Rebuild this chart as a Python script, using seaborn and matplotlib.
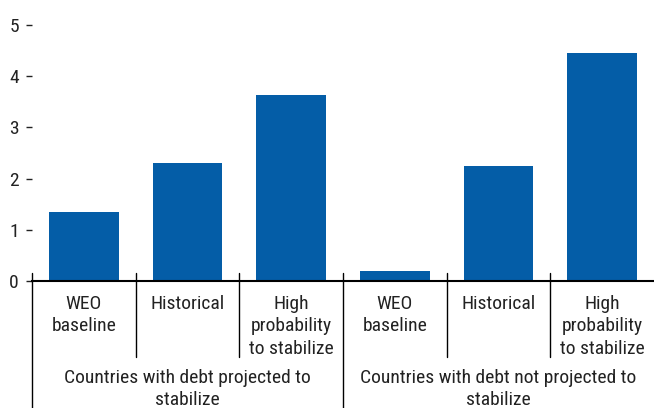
import pandas as pd
import matplotlib
matplotlib.use("Agg")
import matplotlib.pyplot as plt
import matplotlib.transforms as mtransforms
from matplotlib import font_manager as fm
import seaborn as sns

# data
groups = ["Countries with debt projected to\nstabilize",
          "Countries with debt not projected to\nstabilize"]
scenarios = ["WEO\nbaseline", "Historical", "High\nprobability\nto stabilize"]
values_stabilize = [1.34, 2.31, 3.64]
values_not_stabilize = [0.19, 2.24, 4.46]

df = pd.DataFrame({
    "slot": list(range(6)),
    "group": [groups[0]] * 3 + [groups[1]] * 3,
    "scenario": scenarios * 2,
    "value": values_stabilize + values_not_stabilize,
})

sns.set_style("white")
names = {f.name for f in fm.fontManager.ttflist}
fam = [n for n in ["Liberation Sans Narrow", "Roboto Condensed", "Open Sans Condensed",
                   "Liberation Sans"] if n in names] + ["DejaVu Sans"]
plt.rcParams["font.family"] = fam[:1] + ["DejaVu Sans"]

fig = plt.figure(figsize=(6.54, 4.08), dpi=100)
ax = fig.add_axes([32 / 654, 1 - 281 / 408, 1 - 32 / 654, (281 - 25) / 408])

sns.barplot(data=df, x="slot", y="value", color="#045DA7", saturation=1,
            width=0.67, ax=ax, order=list(range(6)), linewidth=0, edgecolor="none")

ax.set_xlim(-0.5, 5.5)
ax.set_ylim(0, 5)
ax.set_yticks(range(6))
ax.set_xticks([])
ax.set_xlabel("")
ax.set_ylabel("")
for s in ["top", "right", "left"]:
    ax.spines[s].set_visible(False)
ax.spines["bottom"].set_linewidth(1.5)
ax.spines["bottom"].set_color("black")
ax.tick_params(axis="y", direction="out", length=4.5, width=1.0, pad=5,
               labelsize=14, colors="#222222", left=True)

# category separators and labels below the axis
tr = mtransforms.blended_transform_factory(ax.transData, fig.transFigure)
for i in range(6):
    x = i - 0.5
    bottom = 0.0 if i % 3 == 0 else 1 - 357 / 408
    ax.plot([x, x], [1 - 273 / 408, bottom], color="black", lw=1.0,
            transform=tr, clip_on=False)
for i, row in df.iterrows():
    ax.text(row["slot"], 1 - 295 / 408, row["scenario"], transform=tr,
            ha="center", va="top", fontsize=14, linespacing=1.32, color="#222222")
for g, name in enumerate(groups):
    ax.text(g * 3 + 1, 1 - 369 / 408, name, transform=tr,
            ha="center", va="top", fontsize=14, linespacing=1.3, color="#222222")

fig.savefig("out.png", dpi=100)
